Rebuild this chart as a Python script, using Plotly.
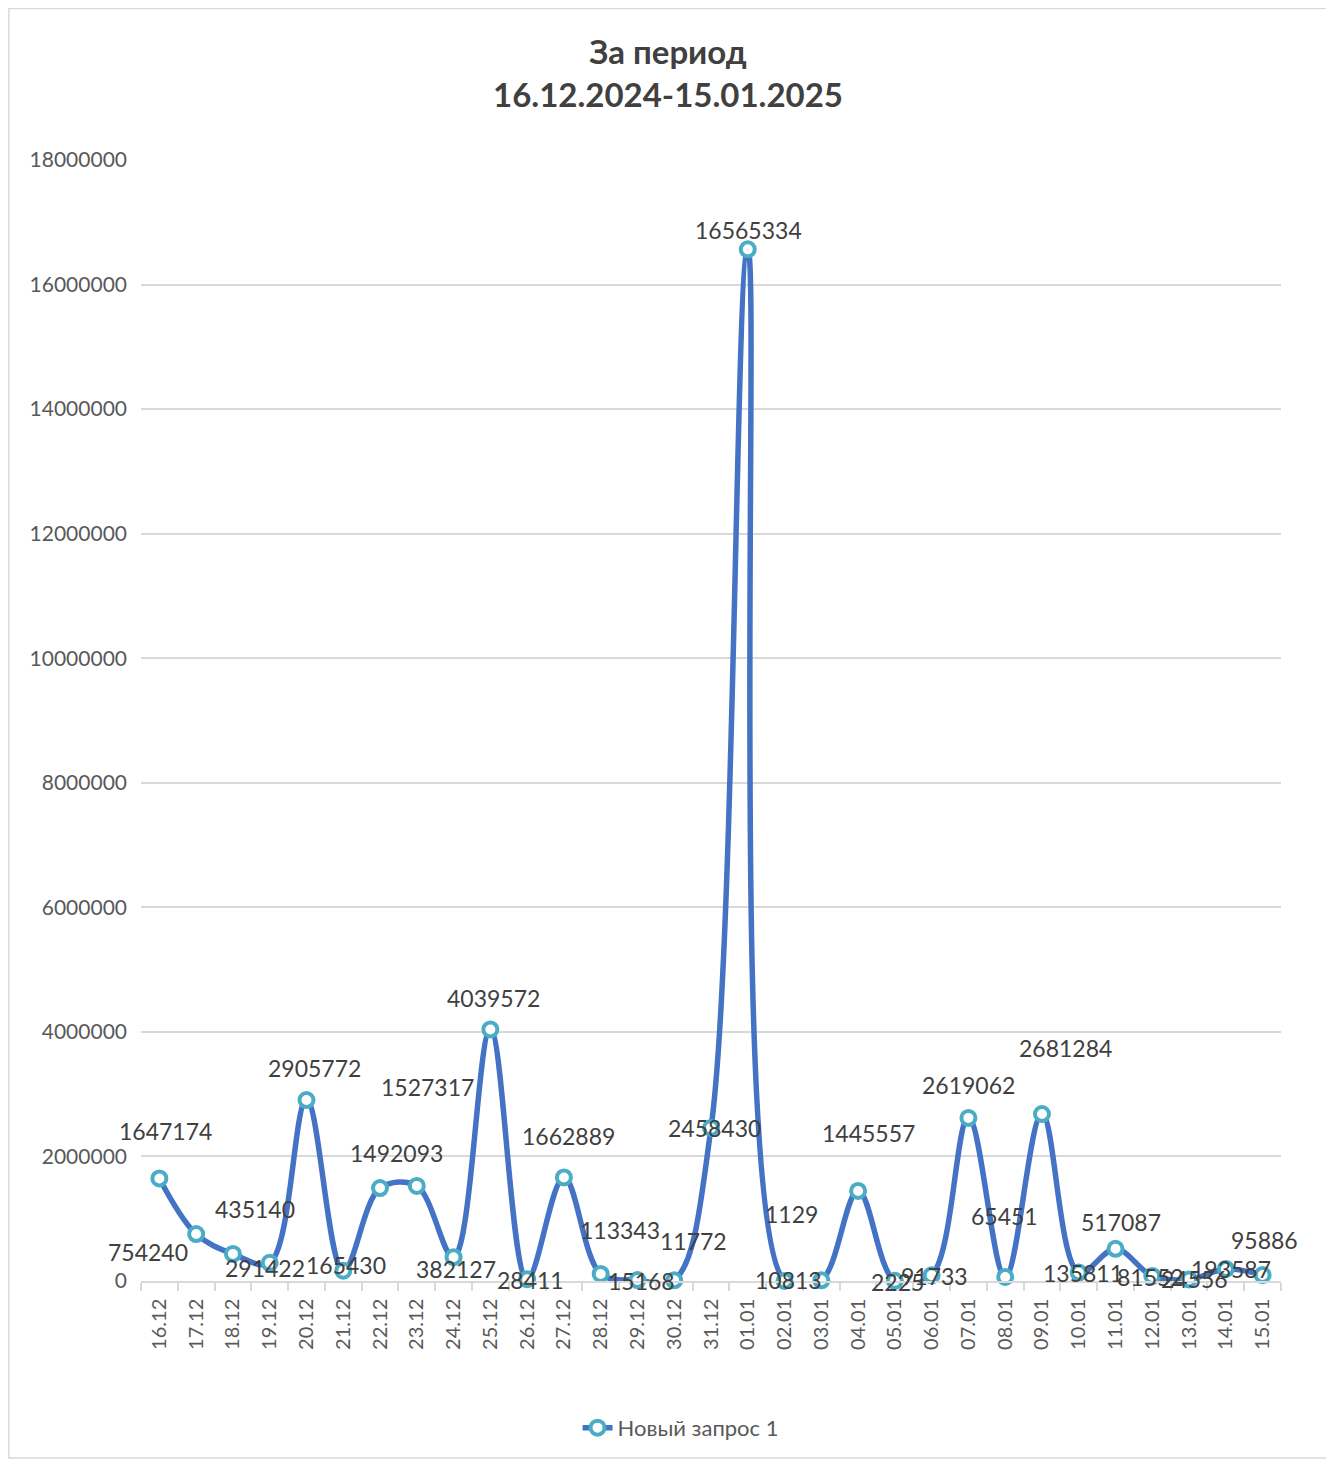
import plotly.graph_objects as go

dates = ["16.12", "17.12", "18.12", "19.12", "20.12", "21.12", "22.12", "23.12",
         "24.12", "25.12", "26.12", "27.12", "28.12", "29.12", "30.12", "31.12",
         "01.01", "02.01", "03.01", "04.01", "05.01", "06.01", "07.01", "08.01",
         "09.01", "10.01", "11.01", "12.01", "13.01", "14.01", "15.01"]
values = [1647174, 754240, 435140, 291422, 2905772, 165430, 1492093, 1527317,
          382127, 4039572, 28411, 1662889, 113343, 15168, 11772, 2458430,
          16565334, 1129, 10813, 1445557, 2225, 91733, 2619062, 65451,
          2681284, 135811, 517087, 81552, 24556, 193587, 95886]
series_name = "Новый запрос 1"
y_ticks = [0, 2000000, 4000000, 6000000, 8000000, 10000000, 12000000,
           14000000, 16000000, 18000000]

# label placement offsets (pixels) relative to each point
label_dx = [6, -48, 22, -5, 8, 3, 16, 11, 2, 3, 3, 5, 19, 4, 19, 3,
            1, 7, -33, 10, 3, 3, 0, -1, 24, 4, 5, -2, 5, 5, 2]
label_dy = [47, -18, 45, -5, 32, 6, 35, 99, -12, 31, -1, 41, 44, -1, 39, 0,
            19, 67, 0, 58, -1, -1, 33, 61, 66, 0, 27, -1, 0, 0, 35]

LINE = "#4472C4"
MARK = "#4BACC6"
FONT = "Lato"

fig = go.Figure()
fig.add_trace(go.Scatter(
    x=dates, y=values, name=series_name, mode="lines+markers",
    line=dict(color=LINE, width=5.5, shape="spline", smoothing=1.0),
    marker=dict(symbol="circle", size=14, color="white",
                line=dict(color=MARK, width=4)),
    cliponaxis=False,
))

for i, (v, dx, dy) in enumerate(zip(values, label_dx, label_dy)):
    fig.add_annotation(x=i, y=v, text=str(v), showarrow=False,
                       xshift=dx, yshift=dy,
                       font=dict(family=FONT, size=23, color="#404040"))

fig.add_shape(type="rect", xref="paper", yref="paper",
              x0=-0.1159, x1=1.0433, y0=-0.1579, y1=1.1351,
              line=dict(color="#D9D9D9", width=1.5), fillcolor="rgba(0,0,0,0)",
              layer="below")

fig.update_layout(
    width=1334, height=1461, autosize=False,
    margin=dict(l=132.6, r=61.4, t=152, b=188, autoexpand=False),
    paper_bgcolor="white", plot_bgcolor="white",
    font=dict(family=FONT, color="#595959"),
    title=dict(text="<b>За период<br>16.12.2024-15.01.2025</b>",
               x=660 / 1334, xref="container", xanchor="center",
               y=1 - 56 / 1461, yref="container", yanchor="middle",
               font=dict(family=FONT, size=33, color="#404040")),
    showlegend=True,
    legend=dict(orientation="h", x=0.4733, xanchor="center",
                y=-0.131, yanchor="middle",
                font=dict(family=FONT, size=22, color="#595959")),
    xaxis=dict(type="category", tickangle=-90, showgrid=False,
               showline=True, linecolor="#D9D9D9", linewidth=1.5,
               ticks="outside", tickson="boundaries", ticklen=8,
               tickcolor="#D9D9D9", tickwidth=1.5, ticklabelstandoff=8,
               tickfont=dict(family=FONT, size=20, color="#595959"),
               range=[-0.5, len(dates) - 0.5]),
    yaxis=dict(range=[0, 18000000], tickvals=y_ticks,
               ticktext=[str(t) for t in y_ticks],
               showgrid=True, gridcolor="#D9D9D9", gridwidth=1.5,
               zeroline=False, showline=False, ticks="",
               ticklabelstandoff=13,
               tickfont=dict(family=FONT, size=21, color="#595959")),
)

fig.write_html("out.html")
